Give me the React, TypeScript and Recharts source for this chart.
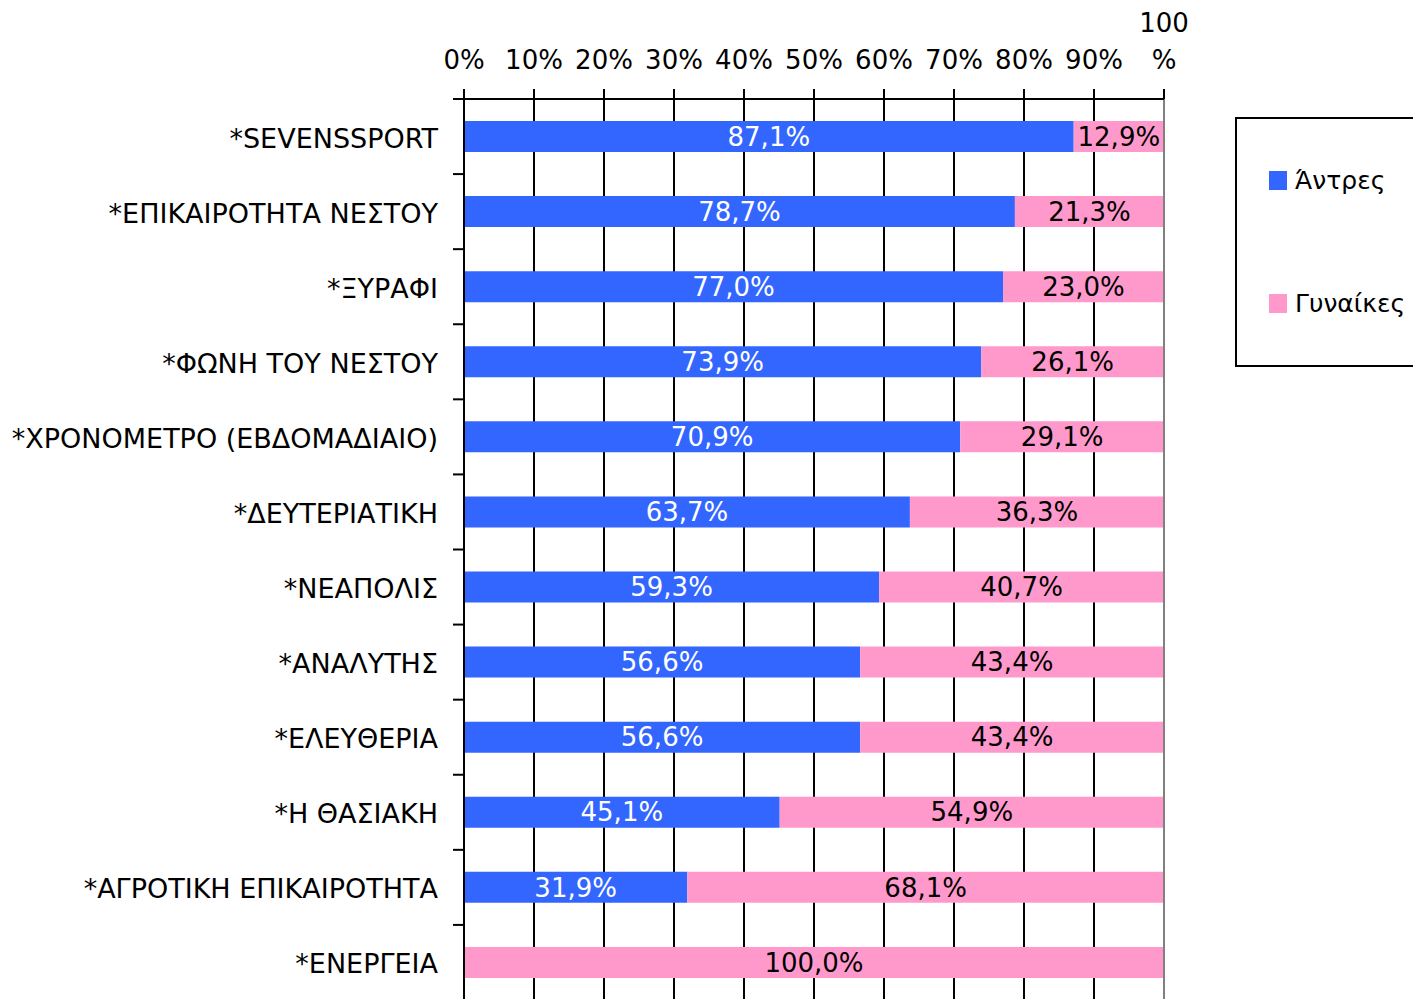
import React from 'react';
import { BarChart, Bar, XAxis, YAxis, CartesianGrid, LabelList, Legend, ReferenceLine } from 'recharts';

const categories = [
  '*SEVENSSPORT',
  '*ΕΠΙΚΑΙΡΟΤΗΤΑ ΝΕΣΤΟΥ',
  '*ΞΥΡΑΦΙ',
  '*ΦΩΝΗ ΤΟΥ ΝΕΣΤΟΥ',
  '*ΧΡΟΝΟΜΕΤΡΟ (ΕΒΔΟΜΑΔΙΑΙΟ)',
  '*ΔΕΥΤΕΡΙΑΤΙΚΗ',
  '*ΝΕΑΠΟΛΙΣ',
  '*ΑΝΑΛΥΤΗΣ',
  '*ΕΛΕΥΘΕΡΙΑ',
  '*Η ΘΑΣΙΑΚΗ',
  '*ΑΓΡΟΤΙΚΗ ΕΠΙΚΑΙΡΟΤΗΤΑ',
  '*ΕΝΕΡΓΕΙΑ',
];
const men = [87.1, 78.7, 77.0, 73.9, 70.9, 63.7, 59.3, 56.6, 56.6, 45.1, 31.9, 0];
const women = [12.9, 21.3, 23.0, 26.1, 29.1, 36.3, 40.7, 43.4, 43.4, 54.9, 68.1, 100];
const xTicks = [0, 10, 20, 30, 40, 50, 60, 70, 80, 90, 100];
const seriesNames = ['Άντρες', 'Γυναίκες'];
const colors = ['#3366FF', '#FF99CC'];

const data = categories.map((name, i) => ({ name, men: men[i], women: women[i] }));

const FONT = '"DejaVu Sans", Verdana, sans-serif';
const W = 1413;
const H = 1001;
const M = { top: 0, right: 249, bottom: 1, left: 0 };
const YW = 464;
const XH = 99;
const BAND = (H - M.top - M.bottom - XH) / categories.length;

const fmt = (v: any) => (v && Number(v) > 0 ? Number(v).toFixed(1).replace('.', ',') + '%' : '');

const XTick = (props: any) => {
  const { x, y, payload } = props;
  const v = payload.value;
  if (v === 100) {
    return (
      <g>
        <text x={x} y={y} dy={-55} textAnchor="middle" fontFamily={FONT} fontSize={26} fill="#000">100</text>
        <text x={x} y={y} dy={-18} textAnchor="middle" fontFamily={FONT} fontSize={26} fill="#000">%</text>
      </g>
    );
  }
  return (
    <text x={x} y={y} dy={-18} textAnchor="middle" fontFamily={FONT} fontSize={26} fill="#000">{v + '%'}</text>
  );
};

const YTick = (props: any) => {
  const { y, payload } = props;
  const by = y - BAND / 2;
  return (
    <g>
      <line x1={YW - 11} x2={YW} y1={by} y2={by} stroke="#000" strokeWidth={2} />
      <text x={YW - 26} y={y} dy={11} textAnchor="end" fontFamily={FONT} fontSize={27} fill="#000">{payload.value}</text>
    </g>
  );
};

const LegendContent = () => (
  <div
    style={{
      width: 200,
      height: 250,
      border: '2px solid #000',
      boxSizing: 'border-box',
      background: '#fff',
      position: 'relative',
      fontFamily: FONT,
      fontSize: 25,
    }}
  >
    {seriesNames.map((n, i) => (
      <div key={n} style={{ position: 'absolute', left: 32, top: 47 + i * 123, display: 'flex', alignItems: 'center', whiteSpace: 'nowrap' }}>
        <span style={{ display: 'inline-block', width: 18, height: 19, background: colors[i], marginRight: 8 }} />
        <span style={{ color: '#000' }}>{n}</span>
      </div>
    ))}
  </div>
);

export default function App() {
  return (
    <div style={{ position: 'absolute', left: 0, top: 0, width: W, height: 999, overflow: 'hidden', background: '#fff' }}>
      <BarChart width={W} height={H} data={data} layout="vertical" margin={M} barCategoryGap={0}>
        <CartesianGrid horizontal={false} vertical={true} stroke="#000" strokeWidth={2} strokeOpacity={1} />
        <XAxis
          type="number"
          orientation="top"
          domain={[0, 100]}
          ticks={xTicks}
          interval={0}
          height={XH}
          axisLine={{ stroke: '#000', strokeWidth: 2 }}
          tickLine={{ stroke: '#000', strokeWidth: 2 }}
          tickSize={10}
          tick={<XTick />}
          allowDataOverflow
        />
        <YAxis
          type="category"
          dataKey="name"
          width={YW}
          axisLine={{ stroke: '#000', strokeWidth: 2 }}
          tickLine={false}
          tick={<YTick />}
          interval={0}
        />
        <Bar dataKey="men" stackId="a" fill={colors[0]} barSize={31} isAnimationActive={false} name={seriesNames[0]}>
          <LabelList dataKey="men" position="center" formatter={fmt} fill="#fff" fontFamily={FONT} fontSize={26} />
        </Bar>
        <Bar dataKey="women" stackId="a" fill={colors[1]} barSize={31} isAnimationActive={false} name={seriesNames[1]}>
          <LabelList dataKey="women" position="center" formatter={fmt} fill="#000" fontFamily={FONT} fontSize={26} />
        </Bar>
        <ReferenceLine x={100} stroke="#808080" strokeWidth={2} />
        <Legend
          layout="vertical"
          align="center"
          verticalAlign="middle"
          content={<LegendContent />}
          wrapperStyle={{ position: 'absolute', left: 1235, top: 117, width: 200, height: 250 }}
        />
      </BarChart>
    </div>
  );
}
